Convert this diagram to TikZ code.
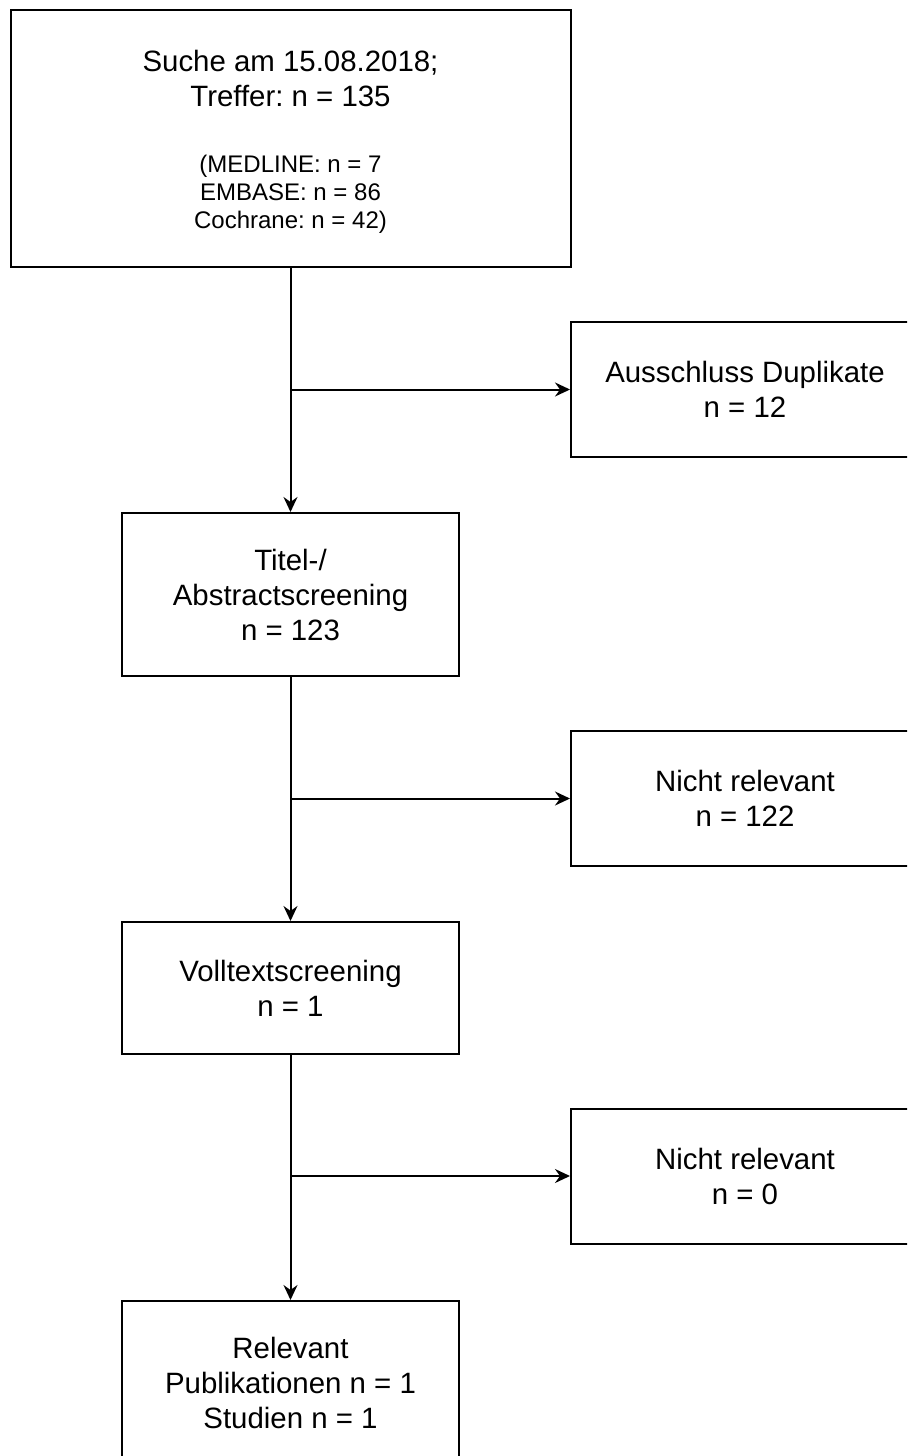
\documentclass[tikz,border=0pt]{standalone}
\usepackage{fontspec}
\setmainfont{Liberation Sans}
\usetikzlibrary{arrows.meta}
\frenchspacing
\newcommand{\bigtext}{\fontsize{14.7pt}{17.5pt}\selectfont}
\newcommand{\smalltext}{\fontsize{12pt}{14pt}\selectfont}
\tikzset{
  box/.style={draw, line width=1pt, minimum width=168.5pt, minimum height=81.5pt,
    inner sep=0pt, align=center, font=\bigtext},
  sidebox/.style={box, minimum width=174pt, minimum height=67.5pt},
  flow/.style={line width=1pt, -{Stealth[length=7.5pt, width=7pt, inset=2.5pt]}},
}
\begin{document}
\begin{tikzpicture}[x=0.5pt, y=-0.5pt]
  \clip (0,0) rectangle (907,1456);
  % main column
  \node[box, minimum width=280pt, minimum height=128.5pt] (search) at (290.5,138.5) {};
  \node[font=\bigtext, align=center, inner sep=0pt] (searchhits) at (290.5,78) {Suche am 15.08.2018;\\Treffer: n = 135};
  \node[font=\smalltext, align=center, inner sep=0pt] (searchdb) at (290.5,194) {(MEDLINE: n = 7\\EMBASE: n = 86\\Cochrane: n = 42)};
  \node[box] (title) at (290.5,594.5) {Titel-/\\Abstractscreening\\n = 123};
  \node[box, minimum height=66pt] (fulltext) at (290.5,988) {Volltextscreening\\n = 1};
  \node[box, minimum height=82pt] (relevant) at (290.5,1383) {Relevant\\Publikationen n = 1\\Studien n = 1};
  % excluded
  \node[sidebox] (dupl) at (745,389.5) {Ausschluss Duplikate\\n = 12};
  \node[sidebox] (excl1) at (745,798.5) {Nicht relevant\\n = 122};
  \node[sidebox] (excl2) at (745,1176) {Nicht relevant\\n = 0};
  % arrows
  \draw[flow] (search) -- (title);
  \draw[flow] (title) -- (fulltext);
  \draw[flow] (fulltext) -- (relevant);
  \draw[flow] (search.south |- dupl) -- (dupl.west);
  \draw[flow] (title.south |- excl1) -- (excl1.west);
  \draw[flow] (fulltext.south |- excl2) -- (excl2.west);
\end{tikzpicture}
\end{document}
